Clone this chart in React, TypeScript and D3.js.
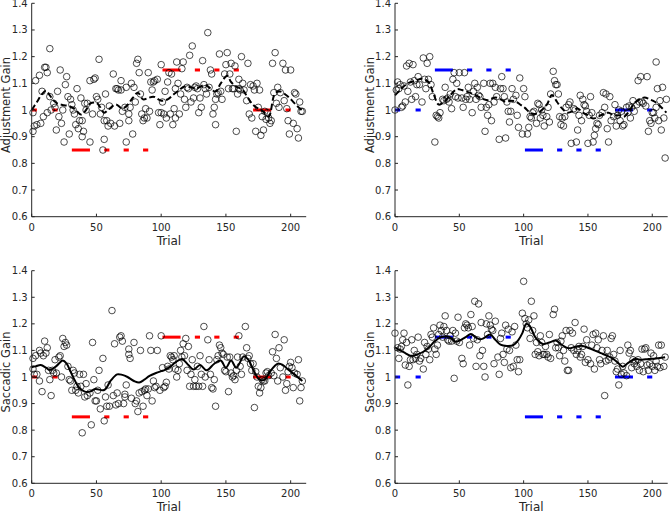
import React from "react";
import * as d3 from "d3";

// ---------- DATA ----------
const xTicks = [0, 50, 100, 150, 200];
const yTicks = [0.6, 0.7, 0.8, 0.9, 1, 1.1, 1.2, 1.3, 1.4];

// target segments: [startTrial, endTrial]
const segTrials: [number, number][] = [
  [0, 4], [16, 20], [31, 45], [56, 60], [71, 75], [86, 90],
  [101, 115], [126, 130], [141, 145], [156, 160], [171, 185], [196, 200],
];
const leftTargetLevels = [1, 1, 0.85, 0.85, 0.85, 0.85, 1.15, 1.15, 1.15, 1.15, 1, 1];
const rightTargetLevels = [1, 1, 1.15, 1.15, 1.15, 1.15, 0.85, 0.85, 0.85, 0.85, 1, 1];

// Panel A: adjustment gain (left, red)
const adjLeftPoints: [number, number][] = [
  [1,0.92],[1,0.99],[2,0.94],[3,1.11],[4,0.945],[6,1.13],[7,0.95],[8,1.07],[9,0.975],[10,1.16],[11,1.16],[12,0.99],[12,1.14],[14,1.23],[14,1.05],[15,1.0],[17,1.025],[18,1.01],[19,0.925],[20,1.07],[21,0.975],[22,1.15],[23,0.95],[24,1.0],[25,0.88],[26,1.095],[27,1.125],[28,1.05],[29,0.91],[30,1.04],[31,1.02],[32,1.0],[33,0.985],[34,0.945],[35,1.08],[36,0.93],[37,0.96],[38,1.045],[39,0.96],[39,0.9],[40,0.92],[41,1.025],[42,1.0],[43,1.025],[45,0.88],[45,1.11],[47,0.985],[48,1.115],[49,1.12],[50,1.05],[51,1.04],[52,1.19],[53,0.985],[54,1.01],[55,0.85],[56,0.89],[56,0.96],[57,1.06],[58,0.96],[59,0.94],[60,1.015],[61,0.95],[63,1.135],[64,0.94],[65,1.08],[66,1.08],[67,1.075],[68,0.95],[69,1.11],[69,1.075],[70,0.995],[72,1.01],[73,1.085],[73,0.88],[75,0.985],[75,0.96],[76,1.01],[77,1.1],[78,0.91],[79,1.085],[80,1.03],[81,1.175],[82,1.19],[83,1.14],[84,1.06],[85,0.985],[86,0.96],[87,0.97],[88,1.005],[89,0.97],[90,1.14],[91,0.995],[92,1.105],[93,1.075],[94,1.105],[95,1.11],[97,1.115],[98,0.99],[99,0.945],[100,1.17],[100,0.99],[101,1.03],[102,0.985],[103,1.07],[104,0.97],[105,1.105],[106,1.14],[107,0.985],[108,1.135],[109,0.945],[110,1.005],[111,1.08],[111,0.97],[112,1.18],[113,1.1],[114,0.985],[115,1.06],[116,1.155],[117,1.18],[118,1.04],[119,1.01],[120,1.085],[121,1.08],[122,1.205],[123,1.03],[124,1.24],[125,1.045],[126,1.085],[127,1.09],[128,1.08],[129,0.99],[130,1.045],[131,1.01],[132,1.185],[133,1.095],[134,1.08],[135,1.06],[136,1.29],[137,1.085],[138,1.15],[139,1.135],[140,0.985],[141,1.01],[142,1.04],[142,0.945],[143,1.06],[144,1.065],[145,1.21],[146,1.07],[147,1.04],[149,1.135],[150,1.17],[151,1.215],[152,1.08],[153,1.135],[154,1.175],[155,1.08],[156,1.08],[157,1.165],[158,0.92],[159,1.06],[160,1.115],[160,1.08],[161,1.075],[162,1.2],[163,1.1],[164,1.075],[166,1.035],[167,1.175],[168,0.985],[169,1.095],[170,0.97],[171,1.09],[172,1.075],[173,0.92],[174,1.1],[175,1.01],[176,1.075],[177,0.905],[178,0.975],[179,0.925],[180,0.995],[181,0.965],[182,0.99],[183,0.97],[184,0.95],[185,0.96],[186,1.175],[187,1.065],[188,1.215],[189,1.025],[190,1.085],[191,1.01],[192,1.065],[194,1.175],[195,1.035],[196,1.15],[197,1.005],[198,0.96],[199,0.91],[200,1.15],[202,0.95],[203,1.065],[204,1.06],[205,0.93],[206,0.895],[207,1.03],[208,0.995],[209,0.995],
];
const adjLeftSmooth: [number, number][] = [
  [0,1.0],[4,1.03],[8,1.06],[11,1.072],[14,1.055],[17,1.035],[20,1.024],[25,1.018],[29,1.015],[34,1.0],[38,0.983],[42,1.0],[45,1.024],[50,1.027],[53,1.01],[56,0.99],[60,1.005],[65,1.021],[70,1.006],[74,1.019],[78,1.045],[82,1.065],[86,1.04],[90,1.045],[94,1.05],[100,1.035],[105,1.04],[110,1.06],[114,1.075],[118,1.088],[123,1.085],[127,1.081],[134,1.094],[137,1.085],[142,1.069],[146,1.1],[151,1.128],[154,1.105],[158,1.088],[163,1.075],[167,1.045],[171,1.019],[175,1.005],[179,0.994],[183,0.975],[188,1.063],[192,1.069],[198,1.05],[205,1.015],[210,0.994],
];

// Panel B: adjustment gain (right, blue)
const adjRightPoints: [number, number][] = [
  [0,1.0],[1,1.075],[2,1.105],[3,1.08],[4,1.095],[5,1.01],[6,1.015],[7,1.09],[8,1.03],[9,1.165],[10,1.07],[11,1.175],[12,1.105],[13,1.04],[14,1.17],[15,1.11],[16,1.05],[17,1.095],[18,1.125],[19,1.095],[21,1.03],[22,1.195],[23,1.115],[24,1.08],[25,1.175],[26,1.115],[27,1.2],[28,1.095],[29,1.05],[31,0.88],[32,0.98],[33,0.975],[34,0.97],[35,0.99],[37,1.04],[38,1.035],[39,1.085],[40,1.04],[41,1.045],[42,1.03],[43,1.06],[44,1.005],[45,1.115],[46,1.14],[47,1.05],[48,1.1],[49,1.045],[50,1.14],[52,1.045],[53,1.01],[54,1.14],[55,1.04],[56,1.05],[57,1.085],[58,1.04],[60,0.99],[61,1.07],[62,1.1],[63,1.04],[64,1.085],[65,1.055],[66,1.05],[67,1.01],[69,1.1],[70,0.92],[71,1.01],[72,0.98],[73,1.02],[74,1.1],[75,0.96],[76,1.1],[77,1.03],[78,1.085],[79,1.05],[81,0.89],[82,1.08],[83,1.125],[84,1.08],[85,1.05],[86,0.895],[87,1.03],[88,0.995],[89,0.955],[90,0.995],[91,1.08],[92,1.04],[94,1.055],[95,0.98],[96,0.935],[97,1.12],[99,0.91],[100,1.08],[101,1.05],[103,0.91],[104,0.935],[105,0.975],[106,0.97],[107,0.99],[108,0.995],[110,0.95],[111,1.025],[112,1.02],[113,0.97],[114,1.0],[115,0.98],[116,0.94],[118,0.975],[119,1.01],[120,0.955],[121,1.06],[123,1.145],[124,1.11],[125,1.095],[126,1.095],[127,1.06],[128,0.975],[129,0.945],[130,0.97],[131,0.94],[132,0.975],[133,1.01],[135,1.02],[136,1.03],[137,0.875],[139,1.005],[140,1.0],[141,0.88],[142,0.925],[143,0.98],[144,1.055],[145,0.96],[146,1.04],[147,1.02],[148,1.015],[149,0.995],[150,0.875],[151,0.98],[152,1.05],[153,0.99],[154,0.88],[155,0.905],[156,0.93],[157,0.95],[158,0.945],[159,0.98],[161,0.99],[162,1.065],[163,1.01],[164,1.06],[165,0.93],[166,0.88],[167,1.05],[168,0.96],[170,0.975],[171,1.02],[172,0.94],[173,0.98],[174,1.0],[175,0.96],[176,0.995],[177,0.94],[178,0.945],[180,1.01],[181,0.99],[182,1.015],[183,0.97],[184,1.01],[185,1.035],[186,0.995],[188,1.02],[189,1.11],[190,1.03],[191,1.125],[192,1.03],[193,1.025],[195,1.015],[196,1.125],[197,0.92],[198,0.96],[199,0.95],[200,0.99],[201,0.99],[202,0.97],[203,1.18],[203,1.01],[204,1.08],[205,0.96],[206,1.035],[207,0.925],[208,1.085],[209,0.97],[210,0.82],[211,1.04],
];
const adjRightSmooth: [number, number][] = [
  [0,1.055],[5,1.08],[10,1.1],[16,1.11],[21,1.117],[26,1.105],[30,1.06],[34,1.02],[38,1.03],[42,1.05],[48,1.078],[52,1.075],[58,1.065],[63,1.055],[67,1.044],[72,1.037],[78,1.047],[82,1.04],[86,1.031],[90,1.035],[94,1.031],[98,1.018],[101,1.008],[105,0.99],[109,0.985],[113,0.995],[118,1.02],[122,1.056],[126,1.03],[130,1.005],[134,0.99],[138,0.995],[142,1.006],[146,0.99],[150,0.98],[154,0.968],[158,0.975],[162,0.985],[166,0.99],[170,0.98],[174,0.98],[178,0.975],[182,0.995],[186,1.025],[190,1.04],[194,1.047],[198,1.04],[202,1.031],[206,1.015],[211,0.99],
];

// Panel C: saccadic gain (left, red)
const sacLeftPoints: [number, number][] = [
  [1,1.07],[1,1.03],[2,1.01],[3,1.08],[4,1.01],[6,0.985],[6,1.1],[7,1.09],[8,0.945],[9,1.08],[10,1.135],[11,1.09],[12,1.11],[13,1.025],[14,0.99],[15,0.93],[16,1.025],[17,1.015],[18,1.065],[19,1.015],[21,1.075],[22,1.08],[23,1.0],[24,1.145],[25,1.115],[26,1.13],[27,1.12],[28,1.04],[29,0.99],[30,0.985],[31,0.95],[32,1.025],[33,1.015],[34,0.95],[35,0.965],[36,0.94],[37,1.01],[38,0.965],[39,0.79],[40,1.01],[41,0.925],[42,0.975],[43,0.93],[45,0.94],[46,0.82],[47,1.13],[48,0.99],[49,0.91],[50,0.91],[51,0.95],[52,1.025],[53,0.88],[55,1.07],[56,0.835],[57,0.925],[58,0.89],[59,0.97],[60,0.89],[62,1.25],[63,0.93],[64,1.125],[65,0.895],[66,0.94],[67,0.9],[68,1.15],[69,1.155],[70,1.135],[71,0.9],[72,0.935],[72,0.925],[73,0.97],[75,1.085],[75,1.105],[76,1.07],[77,0.92],[79,1.13],[80,0.9],[81,0.91],[82,0.87],[83,0.94],[84,1.1],[85,0.945],[86,0.89],[87,0.95],[88,0.955],[89,0.93],[90,0.955],[91,1.155],[92,1.1],[93,0.91],[94,0.985],[95,0.96],[96,0.965],[97,1.1],[99,0.95],[100,1.155],[101,1.035],[102,0.96],[103,0.965],[104,0.98],[105,1.04],[106,1.03],[107,1.08],[108,1.075],[109,1.065],[110,1.08],[111,1.03],[112,1.0],[113,1.025],[114,1.05],[115,1.1],[116,1.075],[117,1.125],[118,1.08],[119,1.145],[120,1.025],[121,1.115],[122,0.965],[123,1.01],[124,1.065],[125,0.965],[126,0.99],[127,0.965],[128,1.04],[129,0.965],[130,1.08],[131,1.01],[132,0.965],[133,1.19],[134,1.0],[136,1.14],[137,1.065],[138,1.01],[139,0.96],[140,0.955],[141,0.99],[142,0.89],[143,1.065],[144,1.08],[145,1.12],[146,1.11],[147,1.09],[148,1.085],[149,1.025],[150,1.02],[151,1.075],[152,0.945],[153,1.075],[154,1.015],[155,1.0],[156,1.005],[157,0.99],[158,1.025],[159,1.075],[160,1.155],[161,1.04],[162,1.01],[163,1.075],[165,1.19],[166,1.11],[167,1.07],[168,1.08],[169,1.05],[170,1.025],[171,1.05],[172,0.885],[173,1.02],[174,1.0],[175,0.965],[176,0.94],[177,0.96],[178,0.99],[179,0.985],[180,0.985],[181,1.015],[182,1.02],[183,1.005],[185,1.015],[186,1.095],[187,1.005],[188,1.16],[189,1.07],[190,0.985],[191,1.11],[192,1.035],[194,1.0],[195,1.14],[196,0.95],[197,0.975],[198,1.02],[199,1.04],[200,1.055],[201,1.035],[202,0.96],[203,1.015],[205,1.01],[206,1.065],[207,0.91],[208,0.96],[209,0.985],
];
const sacLeftSmooth: [number, number][] = [
  [0,1.037],[3,1.04],[7,1.045],[11,1.035],[14,1.026],[19,1.041],[24,1.062],[27,1.05],[30,1.02],[33,0.99],[36,0.964],[41,0.945],[45,0.945],[49,0.955],[56,0.951],[61,0.986],[66,1.01],[70,1.008],[74,1.0],[79,0.985],[83,0.979],[87,0.99],[91,1.004],[96,1.015],[100,1.022],[103,1.027],[107,1.039],[111,1.055],[116,1.068],[121,1.045],[125,1.028],[130,1.045],[135,1.025],[141,1.05],[146,1.062],[150,1.035],[154,1.062],[158,1.035],[164,1.078],[168,1.06],[171,1.028],[176,0.99],[180,0.99],[184,1.02],[190,1.05],[194,1.045],[198,1.028],[203,1.01],[209,0.985],
];

// Panel D: saccadic gain (right, blue)
const sacRightPoints: [number, number][] = [
  [0,1.165],[2,1.11],[3,1.07],[4,1.105],[5,1.115],[6,1.14],[7,1.165],[8,1.045],[9,1.13],[10,0.97],[11,1.04],[12,1.065],[13,1.14],[14,1.065],[15,1.1],[16,1.07],[17,1.085],[18,1.15],[19,1.06],[20,1.07],[22,1.03],[23,1.13],[24,1.085],[25,1.115],[26,1.105],[27,1.065],[28,1.16],[29,1.15],[30,1.185],[31,1.105],[32,1.085],[33,1.12],[34,1.16],[35,1.195],[36,1.175],[37,1.15],[38,1.19],[39,1.23],[40,1.175],[41,1.14],[42,1.135],[43,1.155],[44,1.135],[45,1.175],[46,0.995],[47,1.165],[48,1.135],[49,1.225],[50,1.13],[52,1.07],[53,1.05],[54,1.185],[55,1.2],[56,1.195],[57,1.185],[58,1.12],[59,1.235],[60,1.19],[61,1.145],[62,1.285],[63,1.04],[64,1.14],[65,1.275],[66,1.08],[67,1.205],[68,1.1],[69,1.04],[70,1.0],[71,1.2],[72,1.16],[73,1.23],[74,1.195],[75,1.18],[76,1.175],[77,1.05],[78,1.21],[80,1.075],[81,1.01],[82,1.145],[83,1.165],[84,1.085],[85,1.055],[86,1.195],[87,1.105],[88,1.18],[89,1.1],[90,1.035],[91,1.17],[92,1.04],[93,1.19],[94,1.12],[95,1.065],[96,1.02],[97,1.065],[99,1.24],[100,1.36],[101,1.22],[102,1.2],[103,1.185],[104,1.215],[105,1.145],[106,1.285],[107,1.175],[108,1.23],[109,1.085],[110,1.13],[111,1.095],[112,1.08],[113,1.155],[114,1.13],[115,1.085],[116,1.085],[117,1.115],[118,1.085],[119,1.075],[120,1.16],[121,1.07],[123,1.235],[124,1.255],[125,1.11],[126,1.13],[127,1.11],[128,1.08],[129,1.135],[130,1.155],[131,1.1],[132,1.06],[133,1.175],[134,1.025],[135,1.025],[136,1.175],[137,1.11],[138,1.165],[139,1.1],[140,1.205],[141,1.085],[142,1.1],[143,1.115],[144,1.075],[145,1.085],[146,1.115],[147,1.18],[148,1.055],[149,1.14],[150,1.065],[152,1.05],[153,1.12],[154,1.16],[155,1.03],[156,1.165],[157,1.11],[158,1.14],[159,1.065],[160,1.05],[161,1.1],[162,1.155],[163,0.93],[164,1.06],[165,1.1],[166,1.065],[167,1.075],[168,1.145],[169,1.155],[170,1.085],[171,1.06],[172,1.02],[173,1.03],[174,0.97],[175,1.1],[176,1.01],[177,1.04],[178,1.015],[180,1.005],[181,1.12],[182,1.09],[183,1.1],[184,1.035],[185,1.065],[186,1.05],[187,1.06],[188,1.04],[189,1.065],[190,1.025],[191,1.05],[192,1.105],[193,1.02],[194,1.105],[195,1.11],[196,1.045],[197,1.025],[198,1.05],[199,1.09],[200,1.04],[201,1.08],[202,1.025],[203,1.06],[204,1.04],[205,1.12],[206,1.035],[207,1.12],[209,1.04],[210,1.075],
];
const sacRightSmooth: [number, number][] = [
  [0,1.112],[4,1.1],[8,1.09],[12,1.08],[16,1.083],[22,1.095],[27,1.115],[31,1.135],[36,1.15],[42,1.152],[47,1.133],[51,1.139],[55,1.15],[59,1.162],[63,1.148],[66,1.142],[69,1.146],[74,1.16],[78,1.14],[82,1.122],[87,1.117],[92,1.12],[96,1.14],[99,1.165],[102,1.2],[105,1.19],[109,1.15],[115,1.124],[120,1.13],[125,1.137],[130,1.12],[135,1.108],[141,1.115],[146,1.117],[151,1.108],[155,1.1],[160,1.09],[165,1.08],[169,1.07],[173,1.055],[177,1.039],[181,1.052],[186,1.067],[192,1.065],[197,1.068],[203,1.07],[210,1.074],
];

// ---------- LAYOUT ----------
const W = 670;
const H = 513;
const xDomain: [number, number] = [0, 212];
const yDomain: [number, number] = [0.6, 1.4];

type Panel = {
  points: [number, number][];
  smooth: [number, number][];
  dashed: boolean;
  levels: number[];
  color: string;
  ylabel: string;
  xr: [number, number];
  yr: [number, number];
};

const panels: Panel[] = [
  { points: adjLeftPoints, smooth: adjLeftSmooth, dashed: true, levels: leftTargetLevels, color: "#ff0000", ylabel: "Adjustment Gain", xr: [31.7, 306.2], yr: [216.7, 3.3] },
  { points: adjRightPoints, smooth: adjRightSmooth, dashed: true, levels: rightTargetLevels, color: "#0000ff", ylabel: "Adjustment Gain", xr: [395, 667.7], yr: [216.7, 3.3] },
  { points: sacLeftPoints, smooth: sacLeftSmooth, dashed: false, levels: leftTargetLevels, color: "#ff0000", ylabel: "Saccadic Gain", xr: [31.7, 306.2], yr: [483.3, 270.7] },
  { points: sacRightPoints, smooth: sacRightSmooth, dashed: false, levels: rightTargetLevels, color: "#0000ff", ylabel: "Saccadic Gain", xr: [395, 667.7], yr: [483.3, 270.7] },
];

const axisColor = "#262626";
const font = "'DejaVu Sans', Verdana, sans-serif";

function PanelView({ p }: { p: Panel }) {
  const x = d3.scaleLinear().domain(xDomain).range(p.xr);
  const y = d3.scaleLinear().domain(yDomain).range(p.yr);
  const line = d3
    .line<[number, number]>()
    .x((d) => x(d[0]))
    .y((d) => y(d[1]))
    .curve(d3.curveCatmullRom.alpha(0.5));
  const x0 = p.xr[0];
  const yb = p.yr[0];
  const yMid = (p.yr[0] + p.yr[1]) / 2;
  return (
    <g>
      {segTrials.map((s, i) => (
        <line key={"s" + i} x1={x(s[0])} x2={x(s[1])} y1={y(p.levels[i])} y2={y(p.levels[i])} stroke={p.color} strokeWidth={3} />
      ))}
      {p.points.map((d, i) => (
        <circle key={"c" + i} cx={x(d[0])} cy={y(d[1])} r={3.3} fill="none" stroke="#000" strokeWidth={0.7} />
      ))}
      <path d={line(p.smooth) || ""} fill="none" stroke="#000" strokeWidth={2} strokeDasharray={p.dashed ? "6,3" : undefined} />
      <line x1={x0} x2={x0} y1={p.yr[1]} y2={yb} stroke={axisColor} strokeWidth={1} />
      <line x1={x0} x2={p.xr[1]} y1={yb} y2={yb} stroke={axisColor} strokeWidth={1} />
      {yTicks.map((t) => (
        <g key={"yt" + t}>
          <line x1={x0} x2={x0 + 3} y1={y(t)} y2={y(t)} stroke={axisColor} strokeWidth={1} />
          <text x={x0 - 4} y={y(t)} dy="0.35em" textAnchor="end" fontSize={10} fill={axisColor} fontFamily={font}>
            {String(t)}
          </text>
        </g>
      ))}
      {xTicks.map((t) => (
        <g key={"xt" + t}>
          <line x1={x(t)} x2={x(t)} y1={yb} y2={yb - 3} stroke={axisColor} strokeWidth={1} />
          <text x={x(t)} y={yb + 14} textAnchor="middle" fontSize={10} fill={axisColor} fontFamily={font}>
            {String(t)}
          </text>
        </g>
      ))}
      <text x={(p.xr[0] + p.xr[1]) / 2} y={yb + 28} textAnchor="middle" fontSize={12} fill={axisColor} fontFamily={font}>
        Trial
      </text>
      <text
        transform={`translate(${x0 - 21.5},${yMid - 5}) rotate(-90)`}
        textAnchor="middle"
        fontSize={11.5}
        fill={axisColor}
        fontFamily={font}
      >
        {p.ylabel}
      </text>
    </g>
  );
}

export default function App() {
  return (
    <svg width={W} height={H} style={{ position: "absolute", left: 0, top: 0, background: "#fff" }}>
      {panels.map((p, i) => (
        <PanelView key={i} p={p} />
      ))}
    </svg>
  );
}
